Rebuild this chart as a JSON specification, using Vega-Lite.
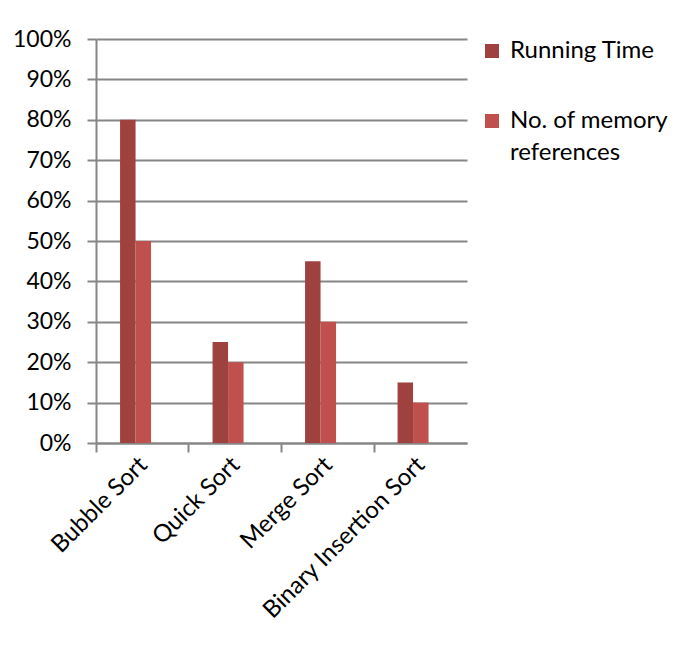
{
  "$schema": "https://vega.github.io/schema/vega-lite/v6.json",
  "width": 371,
  "height": 404,
  "autosize": "none",
  "padding": {"left": 96, "top": 39, "right": 213, "bottom": 207},
  "background": "white",
  "config": {
    "view": {"stroke": null},
    "font": "Lato",
    "axis": {"labelFont": "Lato", "labelColor": "black", "labelFontSize": 24, "domainColor": "#868686", "tickColor": "#868686", "gridColor": "#868686", "domainWidth": 2, "tickWidth": 2, "gridWidth": 2, "title": null, "labelLimit": 400}
  },
  "data": {"values": [
    {"cat": "Bubble Sort", "series": "Running Time", "value": 0.80},
    {"cat": "Bubble Sort", "series": "No. of memory references", "value": 0.50},
    {"cat": "Quick Sort", "series": "Running Time", "value": 0.25},
    {"cat": "Quick Sort", "series": "No. of memory references", "value": 0.20},
    {"cat": "Merge Sort", "series": "Running Time", "value": 0.45},
    {"cat": "Merge Sort", "series": "No. of memory references", "value": 0.30},
    {"cat": "Binary Insertion Sort", "series": "Running Time", "value": 0.15},
    {"cat": "Binary Insertion Sort", "series": "No. of memory references", "value": 0.10}
  ]},
  "layer": [
    {
      "mark": {"type": "bar"},
      "encoding": {
        "x": {"field": "cat", "type": "nominal", "sort": null,
          "scale": {"paddingInner": 0.665, "paddingOuter": 0.338, "align": 0.385},
          "axis": {"labelAngle": -45, "labelAlign": "right", "labelBaseline": "middle", "ticks": false, "domain": false, "labelPadding": 18, "labelOffset": 8}},
        "xOffset": {"field": "series", "type": "nominal", "sort": ["Running Time", "No. of memory references"]},
        "y": {"field": "value", "type": "quantitative",
          "scale": {"domain": [0, 1]},
          "axis": {"format": "%", "values": [0, 0.1, 0.2, 0.3, 0.4, 0.5, 0.6, 0.7, 0.8, 0.9, 1], "grid": true, "tickSize": 9, "labelPadding": 16, "labelFontSize": 23}},
        "color": {"field": "series", "type": "nominal", "sort": ["Running Time", "No. of memory references"],
          "scale": {"range": ["#9e413f", "#c0504d"]},
          "legend": {"title": null, "orient": "none", "legendX": 384, "legendY": 0, "symbolType": "square", "symbolSize": 196, "symbolStrokeWidth": 0, "labelFontSize": 24, "labelFont": "Lato", "labelColor": "black", "rowPadding": 46, "labelOffset": 6, "labelLimit": 300,
            "labelExpr": "datum.label == 'No. of memory references' ? ['No. of memory', 'references'] : datum.label",
            "encode": {"labels": {"update": {"lineHeight": {"value": 32}}}}}}
      }
    },
    {
      "mark": {"type": "rule", "opacity": 0},
      "encoding": {
        "x": {"field": "cat", "type": "nominal", "sort": null,
          "scale": {"paddingInner": 0, "paddingOuter": 0},
          "axis": {"orient": "bottom", "labels": false, "bandPosition": 0, "tickSize": 9, "domain": true}}
      }
    }
  ],
  "resolve": {"scale": {"x": "independent"}, "axis": {"x": "independent"}}
}
